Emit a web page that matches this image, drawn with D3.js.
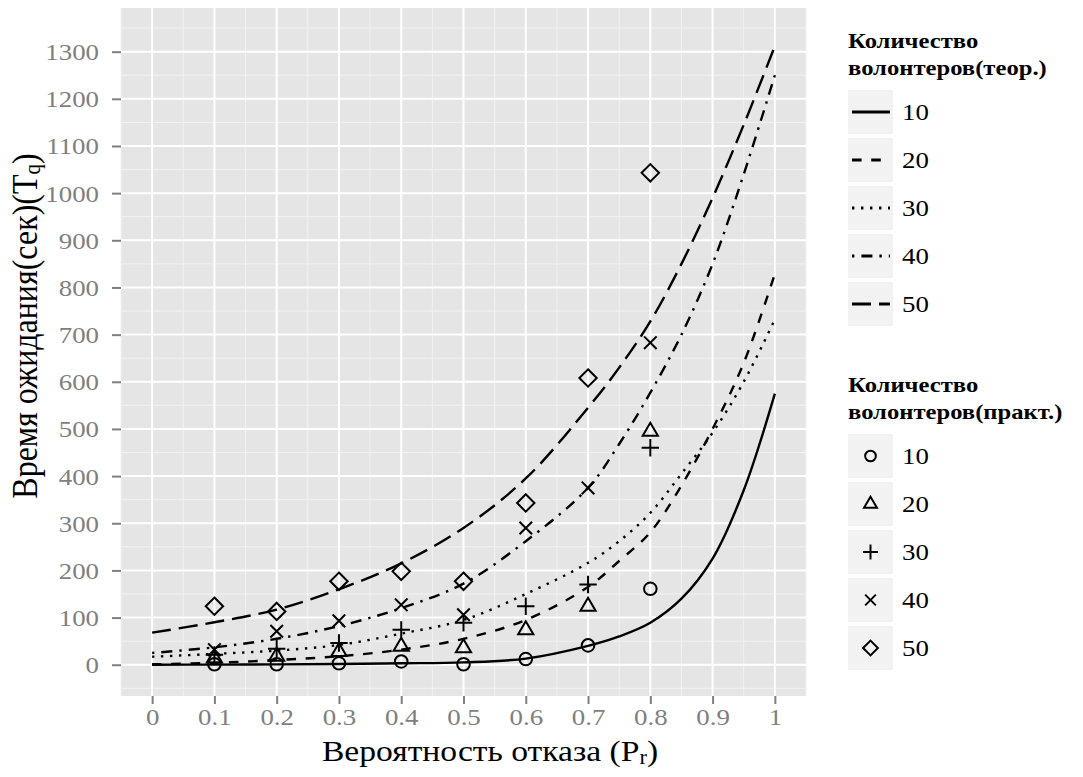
<!DOCTYPE html>
<html><head><meta charset="utf-8">
<script src="https://cdn.jsdelivr.net/npm/d3@7"></script>
<style>body{margin:0;background:#fff}svg{display:block}text{font-family:"Liberation Serif","Times New Roman",serif}</style>
</head><body>
<script>
// ---- data ----
const theoryP = [0,0.1,0.2,0.3,0.4,0.5,0.6,0.7,0.75,0.8,0.85,0.9,0.95,1];
const theory10 = [0,0.3,0.7,1.5,3,5,13,40,60,89,140,225,370,575];
const theory20 = [1,4,10,18,32,55,95,165,220,281,380,500,640,829];
const theory30 = [17,23,30,42,66,95,150,216,262,322,405,492,600,732];
const theory40 = [25,37,55,82,120,172,262,375,468,577,700,850,1040,1250];
const theory50 = [68,90,117,160,215,290,395,545,630,728,850,990,1145,1312];
const practP = [0.1,0.2,0.3,0.4,0.5,0.6,0.7,0.8];
const prac10 = [1,1,3,7,1,12,41,161];
const prac20 = [14,18,28,39,36,74,124,495];
const prac30 = [21,34,46,74,89,124,170,460];
const prac40 = [32,71,93,127,106,290,375,683];
const prac50 = [124,113,177,198,177,343,608,1043];
const groups = ["10","20","30","40","50"];
const xTicks = [0,0.1,0.2,0.3,0.4,0.5,0.6,0.7,0.8,0.9,1];
const xTickLabels = ["0","0.1","0.2","0.3","0.4","0.5","0.6","0.7","0.8","0.9","1"];
const yTicks = [0,100,200,300,400,500,600,700,800,900,1000,1100,1200,1300];

const theory = [theory10,theory20,theory30,theory40,theory50];
const prac = [prac10,prac20,prac30,prac40,prac50];
const dashes = [null,"9.6,9.6","2.4,6.6","2.4,7,11,7","19,8"];
const shapes = ["circle","triangle","plus","cross","diamond"];
const SX = 1.12;

const W=1083,H=777;
const P={l:121,r:806,t:8,b:696};
const svg=d3.select("body").append("svg").attr("width",W).attr("height",H);
const x=d3.scaleLinear().domain([-0.05,1.05]).range([P.l,P.r]);
const y=d3.scaleLinear().domain([-66.3,1392.6]).range([P.b,P.t]);

// panel
svg.append("rect").attr("x",P.l).attr("y",P.t).attr("width",P.r-P.l).attr("height",P.b-P.t).attr("fill","#E5E5E5");
const xMinor=d3.range(-0.05,1.06,0.1).map(v=>+v.toFixed(2));
const yMinor=d3.range(-50,1400,100);
const grid=svg.append("g");
grid.selectAll(".xm").data(xMinor).join("line").attr("x1",d=>x(d)).attr("x2",d=>x(d)).attr("y1",P.t).attr("y2",P.b).attr("stroke","#F2F2F2").attr("stroke-width",1);
grid.selectAll(".ym").data(yMinor).join("line").attr("y1",d=>y(d)).attr("y2",d=>y(d)).attr("x1",P.l).attr("x2",P.r).attr("stroke","#F2F2F2").attr("stroke-width",1);
grid.selectAll(".xM").data(xTicks).join("line").attr("x1",d=>x(d)).attr("x2",d=>x(d)).attr("y1",P.t).attr("y2",P.b).attr("stroke","#fff").attr("stroke-width",2);
grid.selectAll(".yM").data(yTicks).join("line").attr("y1",d=>y(d)).attr("y2",d=>y(d)).attr("x1",P.l).attr("x2",P.r).attr("stroke","#fff").attr("stroke-width",2);

// axes
const xa=svg.append("g").attr("transform",`translate(0,${P.b})`).call(d3.axisBottom(x).tickValues(xTicks).tickSize(8).tickPadding(0).tickFormat((d,i)=>xTickLabels[i]));
const ya=svg.append("g").attr("transform",`translate(${P.l},0)`).call(d3.axisLeft(y).tickValues(yTicks).tickSize(9).tickPadding(0).tickFormat(d3.format("d")));
[xa,ya].forEach(a=>{a.select(".domain").remove();a.selectAll(".tick line").attr("stroke","#7F7F7F").attr("stroke-width",2);
  a.selectAll(".tick text").attr("fill","#7F7F7F").style("font-size","24px").style("font-family","Liberation Serif, serif");});
xa.selectAll(".tick text").attr("y",null).attr("dy",null).attr("transform",`translate(0,29) scale(${SX},1)`);
ya.selectAll(".tick text").attr("x",null).attr("dy",null).attr("transform",`translate(-22,8) scale(${SX},1)`);

// lines
const line=d3.line().x((d,i)=>x(theoryP[i])).y(d=>y(d)).curve(d3.curveCatmullRom.alpha(0.5));
const lg=svg.append("g");
theory.forEach((arr,k)=>{
  lg.append("path").attr("d",line(arr)).attr("fill","none").attr("stroke","#000").attr("stroke-width",2.4)
    .attr("stroke-dasharray",dashes[k]);
});

function drawShape(g,s,cx,cy,sc){
  const gg=g.append("g").attr("transform",`translate(${cx},${cy}) scale(${sc})`);
  let el;
  if(s==="circle") el=gg.append("circle").attr("r",6.3);
  else if(s==="triangle") el=gg.append("path").attr("d","M0,-8.6L7.6,4.4L-7.6,4.4Z");
  else if(s==="plus") el=gg.append("path").attr("d","M-8.7,0H8.7M0,-8.7V8.7");
  else if(s==="cross") el=gg.append("path").attr("d","M-6.3,-6.3L6.3,6.3M-6.3,6.3L6.3,-6.3");
  else el=gg.append("path").attr("d","M0,-8.7L8.7,0L0,8.7L-8.7,0Z");
  el.attr("fill","none").attr("stroke","#000").attr("stroke-width",2/sc);
}
const pg=svg.append("g");
prac.forEach((arr,k)=>arr.forEach((v,i)=>drawShape(pg,shapes[k],x(practP[i]),y(v),1)));

// axis titles
const xt=svg.append("text").attr("transform",`translate(490,761) scale(${SX},1)`).attr("text-anchor","middle").style("font-size","30px").attr("fill","#000");
xt.append("tspan").text("Вероятность отказа (P");
xt.append("tspan").text("r").style("font-size","20px").attr("dy",3);
xt.append("tspan").text(")").attr("dy",-3);
const yt=svg.append("text").attr("transform",`translate(37,326) scale(${SX},1) rotate(-90)`).attr("text-anchor","middle").style("font-size","32px").attr("fill","#000");
yt.append("tspan").text("Время ожидания(сек)(Т");
yt.append("tspan").text("q").style("font-size","21px").attr("dy",3);
yt.append("tspan").text(")").attr("dy",-3);

// legends
function legend(top, titles, drawKey){
  const g=svg.append("g");
  titles.forEach((t,i)=>g.append("text").attr("transform",`translate(848,${top+i*27}) scale(${SX},1)`).style("font-size","22px").style("font-weight","bold").text(t));
  const ky=top+42;
  groups.forEach((gname,i)=>{
    const y0=ky+i*48;
    g.append("rect").attr("x",848).attr("y",y0).attr("width",45).attr("height",44).attr("fill","#F2F2F2");
    drawKey(g,i,870.5,y0+22);
    g.append("text").attr("transform",`translate(902,${y0+30}) scale(${SX},1)`).style("font-size","24px").text(gname);
  });
}
legend(48,["Количество","волонтеров(теор.)"],(g,i,cx,cy)=>{
  g.append("line").attr("x1",852).attr("x2",890).attr("y1",cy).attr("y2",cy).attr("stroke","#000").attr("stroke-width",2.8).attr("stroke-dasharray",dashes[i]);
});
legend(392,["Количество","волонтеров(практ.)"],(g,i,cx,cy)=>drawShape(g,shapes[i],cx,cy,0.85));
</script>
</body></html>
